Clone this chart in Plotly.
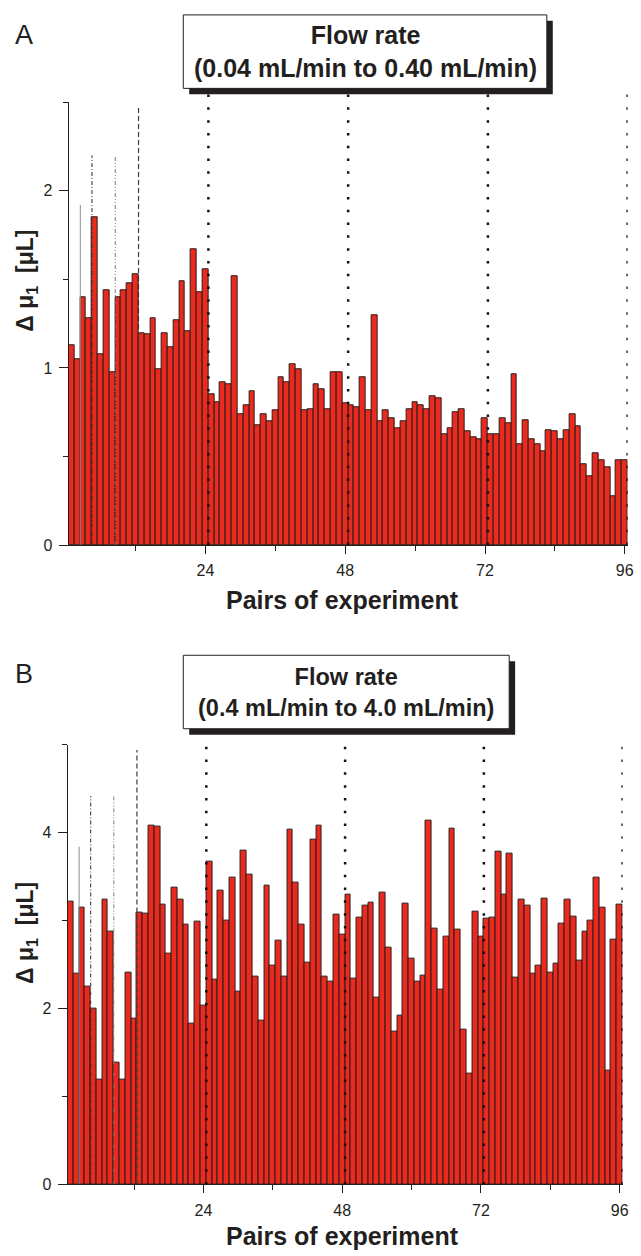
import plotly.graph_objects as go

# ---------------- data ----------------
pairs = list(range(1, 97))

delta_a = [1.127, 1.048, 1.398, 1.279, 1.849, 1.076, 1.439, 0.976, 1.398, 1.439,
           1.477, 1.528, 1.197, 1.188, 1.279, 0.990, 1.197, 1.118, 1.269, 1.488,
           1.207, 1.668, 1.430, 1.558, 0.850, 0.806, 0.920, 0.910, 1.518, 0.740,
           0.788, 0.869, 0.678, 0.740, 0.699, 0.759, 0.948, 0.920, 1.020, 0.990,
           0.759, 0.769, 0.910, 0.878, 0.769, 0.976, 0.976, 0.801, 0.788, 0.778,
           0.948, 0.759, 1.297, 0.699, 0.759, 0.718, 0.659, 0.699, 0.769, 0.806,
           0.788, 0.769, 0.839, 0.829, 0.627, 0.659, 0.750, 0.769, 0.640, 0.608,
           0.599, 0.718, 0.623, 0.627, 0.718, 0.689, 0.967, 0.570, 0.706, 0.599,
           0.567, 0.527, 0.650, 0.640, 0.599, 0.650, 0.740, 0.669, 0.457, 0.387,
           0.517, 0.480, 0.438, 0.278, 0.480, 0.480]

delta_b = [3.219, 2.396, 3.151, 2.253, 2.000, 1.196, 3.242, 2.879, 1.385, 1.196,
           2.404, 1.887, 3.091, 3.083, 4.083, 4.068, 3.181, 2.623, 3.377, 3.234,
           2.955, 1.830, 2.989, 2.038, 3.672, 2.328, 3.340, 3.000, 3.491, 2.189,
           3.800, 3.521, 2.358, 1.860, 3.396, 2.491, 2.774, 2.358, 4.038, 3.434,
           2.955, 2.525, 3.917, 4.083, 2.358, 2.309, 3.068, 2.842, 3.291, 2.340,
           3.030, 3.170, 3.208, 2.121, 3.321, 2.691, 1.743, 1.917, 3.189, 2.566,
           2.309, 2.377, 4.140, 2.909, 2.219, 2.823, 4.049, 2.898, 1.755, 1.264,
           3.106, 2.819, 3.019, 3.030, 3.785, 3.294, 3.766, 2.351, 3.234, 3.170,
           2.396, 2.483, 3.253, 2.411, 2.509, 2.970, 3.234, 3.042, 2.547, 2.879,
           3.000, 3.483, 3.151, 1.294, 2.781, 3.181]

x_tick_vals = [24, 48, 72, 96]
x_minor_vals = [12, 36, 60, 84]
ya_tick_vals = [0, 1, 2]
ya_minor_vals = [0.5, 1.5, 2.5]
yb_tick_vals = [0, 2, 4]
yb_minor_vals = [1, 3, 5]
ya_range = [0, 2.5]
yb_range = [0, 5]
x_range = [0.5, 96.5]

# reference lines (positions and heights)
guide_x = [2.5, 4.5, 8.5, 12.5]
guide_top_a = [1.92, 2.20, 2.20, 2.47]
guide_top_b = [3.84, 4.415, 4.415, 4.94]
group_x = [24.5, 48.5, 72.5, 96.5]

box_a_text = "<b>Flow rate<br>(0.04 mL/min to 0.40 mL/min)</b>"
box_b_text = "<b>Flow rate<br>(0.4 mL/min to 4.0 mL/min)</b>"
x_title = "<b>Pairs of experiment</b>"
y_title = "<b>\u0394 \u03bc<sub>1</sub>\u00a0\u00a0[\u03bcL]</b>"

# ---------------- styles ----------------
W, H = 641, 1256
BAR = "#EA2A1F"
EDGE = "#2A1C1A"
INK = "#231F20"
FONT = "Liberation Sans, Arial, sans-serif"
guide_styles = [("solid", "#8C8C8C", 1.0), ("4px,2px,1px,2px", "#2B2B2B", 1.0),
                ("4px,2px,1px,2px,1px,2px", "#7A7A7A", 1.0), ("5px,3px", "#3A3A3A", 1.2)]


def px_x(p):
    return p / W


def px_y(p):
    return 1 - p / H


# panel pixel geometry
A_left, A_right, A_top, A_bot = 69.3, 633.6, 103, 549
B_left, B_right, B_top, B_bot = 68.2, 628.5, 750, 1193

fig = go.Figure()
fig.add_trace(go.Bar(x=pairs, y=delta_a, xaxis="x", yaxis="y",
                     marker=dict(color=BAR, line=dict(color=EDGE, width=1))))
fig.add_trace(go.Bar(x=pairs, y=delta_b, xaxis="x2", yaxis="y2",
                     marker=dict(color=BAR, line=dict(color=EDGE, width=1))))


def xaxis_cfg(dom, anchor):
    return dict(domain=dom, range=x_range, anchor=anchor, tickmode="array",
                tickvals=x_tick_vals, ticks="outside", ticklen=8, tickwidth=1,
                tickcolor=INK, showline=True, linecolor=INK, linewidth=1,
                showgrid=False, zeroline=False, ticklabelstandoff=3,
                tickfont=dict(family=FONT, size=16, color=INK),
                minor=dict(tickmode="array", tickvals=x_minor_vals, ticks="outside",
                           ticklen=5, tickwidth=1, tickcolor=INK, showgrid=False))


def yaxis_cfg(dom, anchor, rng, tv, mv):
    return dict(domain=dom, range=rng, anchor=anchor, tickmode="array",
                tickvals=tv, ticks="outside", ticklen=9, tickwidth=1,
                tickcolor=INK, showline=True, linecolor=INK, linewidth=1,
                showgrid=False, zeroline=False, ticklabelstandoff=3,
                tickfont=dict(family=FONT, size=16, color=INK),
                minor=dict(tickmode="array", tickvals=mv, ticks="outside",
                           ticklen=5, tickwidth=1, tickcolor=INK, showgrid=False))


fig.update_layout(
    width=W, height=H, margin=dict(l=0, r=0, t=0, b=0),
    paper_bgcolor="white", plot_bgcolor="white", showlegend=False,
    bargap=0,
    xaxis=xaxis_cfg([px_x(A_left), px_x(A_right)], "y"),
    yaxis=yaxis_cfg([px_y(A_bot), px_y(A_top)], "x", ya_range, ya_tick_vals, ya_minor_vals),
    xaxis2=xaxis_cfg([px_x(B_left), px_x(B_right)], "y2"),
    yaxis2=yaxis_cfg([px_y(B_bot), px_y(B_top)], "x2", yb_range, yb_tick_vals, yb_minor_vals),
)

shapes = []
for xr, yr, tops in (("x", "y", guide_top_a), ("x2", "y2", guide_top_b)):
    for gx, gt, (dash, col, wd) in zip(guide_x, tops, guide_styles):
        shapes.append(dict(type="line", xref=xr, yref=yr, x0=gx, x1=gx, y0=0, y1=gt,
                           line=dict(color=col, width=wd, dash=dash), layer="above"))
for xr, yr, ext in (("x", "y domain", 1.02), ("x2", "y2 domain", 1.014)):
    for gx in group_x:
        shapes.append(dict(type="line", xref=xr, yref=yr, x0=gx, x1=gx, y0=0, y1=ext,
                           line=dict(color="#111111", width=2.5, dash="2.5px,10.3px"),
                           layer="above"))

# title boxes (shadow + box)
boxes = [(185, 552, 15, 89, box_a_text, 25), (185, 514, 660, 734, box_b_text, 23.5)]
annotations = []
for x0, x1, y0, y1, txt, fs in boxes:
    shapes.append(dict(type="rect", xref="paper", yref="paper",
                       x0=px_x(x0 + 6), x1=px_x(x1 + 6), y0=px_y(y1 + 6), y1=px_y(y0 + 6),
                       fillcolor=INK, line=dict(width=0), layer="above"))
    shapes.append(dict(type="rect", xref="paper", yref="paper",
                       x0=px_x(x0), x1=px_x(x1), y0=px_y(y1), y1=px_y(y0),
                       fillcolor="white", line=dict(color=INK, width=1), layer="above"))
    annotations.append(dict(xref="paper", yref="paper", x=px_x((x0 + x1) / 2),
                            y=px_y((y0 + y1) / 2), text=txt, showarrow=False,
                            xanchor="center", yanchor="middle", align="center",
                            font=dict(family=FONT, size=fs, color=INK)))

# panel letters
for letter, yy in (("A", 35), ("B", 679)):
    annotations.append(dict(xref="paper", yref="paper", x=px_x(24), y=px_y(yy),
                            text=letter, showarrow=False, xanchor="center",
                            yanchor="middle", font=dict(family=FONT, size=27, color=INK)))

# axis titles
for yy in (604, 1245):
    annotations.append(dict(xref="paper", yref="paper", x=px_x(346), y=px_y(yy),
                            text=x_title, showarrow=False, xanchor="center",
                            yanchor="middle", font=dict(family=FONT, size=25, color=INK)))
for yy in (283, 940):
    annotations.append(dict(xref="paper", yref="paper", x=px_x(27), y=px_y(yy),
                            text=y_title, showarrow=False, textangle=-90,
                            xanchor="center", yanchor="middle",
                            font=dict(family=FONT, size=23, color=INK)))

fig.update_layout(shapes=shapes, annotations=annotations)
fig.write_html("out.html")
